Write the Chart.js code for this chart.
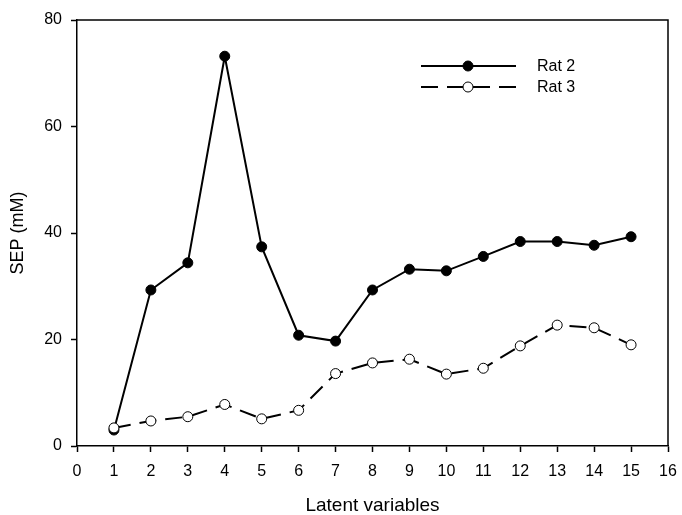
<!DOCTYPE html>
<html>
<head>
<meta charset="utf-8">
<script src="https://cdn.jsdelivr.net/npm/chart.js@4/dist/chart.umd.min.js"></script>
<style>
  html, body { margin: 0; padding: 0; background: #fff; }
  canvas { display: block; }
</style>
</head>
<body>
<canvas id="sep" width="682" height="515"></canvas>
<script>
const latentVars = [1, 2, 3, 4, 5, 6, 7, 8, 9, 10, 11, 12, 13, 14, 15]
const rat2 = [3.0, 29.3, 34.4, 73.2, 37.4, 20.8, 19.7, 29.3, 33.2, 32.9, 35.6, 38.4, 38.4, 37.7, 39.3]
const rat3 = [3.4, 4.7, 5.5, 7.8, 5.1, 6.7, 13.6, 15.6, 16.3, 13.5, 14.6, 18.8, 22.7, 22.2, 19.0]
const xTicks = [0, 1, 2, 3, 4, 5, 6, 7, 8, 9, 10, 11, 12, 13, 14, 15, 16]
const yTicks = [0, 20, 40, 60, 80]

const FONT = 'Arial, "Liberation Sans", Helvetica, sans-serif'
const DASH = [17, 9]

const toPoints = ys => latentVars.map((x, i) => ({ x, y: ys[i] }))

// frame on top/right plus the hand-drawn legend (line with marker in the middle)
const framePlugin = {
  id: 'frameAndLegend',
  afterDraw(chart) {
    const { ctx, chartArea: a } = chart
    ctx.save()
    ctx.strokeStyle = '#000'
    ctx.lineWidth = 1.5
    ctx.beginPath()
    ctx.moveTo(a.left, a.top)
    ctx.lineTo(a.right, a.top)
    ctx.lineTo(a.right, a.bottom)
    ctx.stroke()

    const rows = [
      { label: 'Rat 2', y: 66, fill: '#000', dash: [] },
      { label: 'Rat 3', y: 87, fill: '#fff', dash: DASH },
    ]
    rows.forEach(r => {
      ctx.setLineDash(r.dash)
      ctx.lineWidth = 2
      ctx.beginPath()
      ctx.moveTo(421, r.y)
      ctx.lineTo(516, r.y)
      ctx.stroke()
      ctx.setLineDash([])
      ctx.beginPath()
      ctx.arc(468, r.y, 5, 0, Math.PI * 2)
      ctx.fillStyle = r.fill
      ctx.fill()
      ctx.lineWidth = 1
      ctx.stroke()
      ctx.fillStyle = '#000'
      ctx.font = '16px ' + FONT
      ctx.textBaseline = 'middle'
      ctx.fillText(r.label, 537, r.y + 1)
    })
    ctx.restore()
  }
}

new Chart(document.getElementById('sep'), {
  type: 'line',
  data: {
    datasets: [
      {
        label: 'Rat 2',
        data: toPoints(rat2),
        borderColor: '#000',
        borderWidth: 2,
        pointRadius: 5,
        pointBackgroundColor: '#000',
        pointBorderColor: '#000',
        pointBorderWidth: 1,
        tension: 0,
        order: 1
      },
      {
        label: 'Rat 3',
        data: toPoints(rat3),
        borderColor: '#000',
        borderWidth: 2,
        borderDash: DASH,
        pointRadius: 5,
        pointBackgroundColor: '#fff',
        pointBorderColor: '#000',
        pointBorderWidth: 1,
        tension: 0,
        order: 0
      }
    ]
  },
  options: {
    responsive: false,
    animation: false,
    layout: { padding: { top: 20, right: 14, left: 0, bottom: 0 } },
    plugins: { legend: { display: false }, tooltip: { enabled: false } },
    scales: {
      x: {
        type: 'linear',
        min: 0,
        max: 16,
        // fixed axis band; ignore the label overhang so the plot box keeps its size
        afterFit: s => { s.height = 69; s.paddingLeft = 0; s.paddingRight = 0 },
        afterBuildTicks: s => { s.ticks = xTicks.map(value => ({ value })) },
        grid: { drawOnChartArea: false, tickLength: 6, tickColor: '#000', tickWidth: 1.5 },
        border: { color: '#000', width: 1.5 },
        ticks: { color: '#000', font: { family: FONT, size: 16 }, padding: 10, maxRotation: 0, autoSkip: false },
        title: {
          display: true,
          text: 'Latent variables',
          color: '#000',
          font: { family: FONT, size: 19, lineHeight: 1 },
          padding: { top: 0, bottom: 0 }
        }
      },
      y: {
        min: 0,
        max: 80,
        afterFit: s => { s.width = 77; s.paddingTop = 0; s.paddingBottom = 0 },
        afterBuildTicks: s => { s.ticks = yTicks.map(value => ({ value })) },
        grid: { drawOnChartArea: false, tickLength: 6, tickColor: '#000', tickWidth: 1.5 },
        border: { color: '#000', width: 1.5 },
        ticks: { color: '#000', font: { family: FONT, size: 16 }, padding: 9 },
        title: {
          display: true,
          text: 'SEP (mM)',
          color: '#000',
          font: { family: FONT, size: 18, lineHeight: 1 },
          padding: { top: 9, bottom: 9 }
        }
      }
    }
  },
  plugins: [framePlugin]
})
</script>
</body>
</html>
